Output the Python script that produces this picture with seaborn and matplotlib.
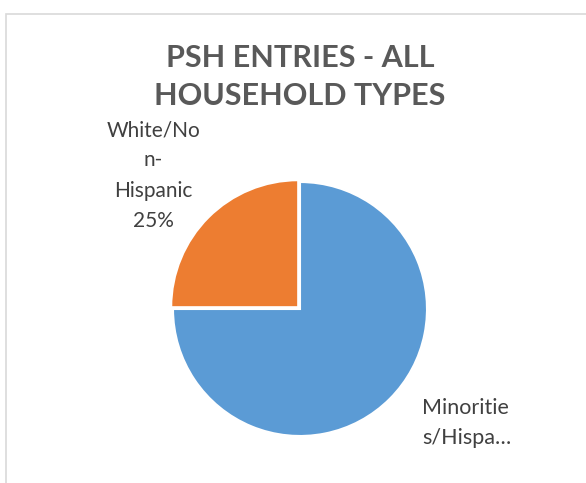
import matplotlib
matplotlib.use("Agg")
import matplotlib.pyplot as plt
import seaborn as sns
from matplotlib.patches import Rectangle

sns.set_theme(style="white")
plt.rcParams["font.family"] = ["Lato", "DejaVu Sans"]

# Data
categories = ["Minorities/Hispanic", "White/Non-Hispanic"]
shares = [75, 25]
slice_labels = ["Minoritie\ns/Hispa\u2026", "White/No\nn-\nHispanic\n25%"]
title_lines = ["PSH ENTRIES - ALL", "HOUSEHOLD TYPES"]

colors = ["#5b9bd5", "#ed7d31"]

fig = plt.figure(figsize=(5.86, 4.83), dpi=100)
ax = fig.add_axes([0, 0, 1, 1])

wedges, _ = ax.pie(
    shares,
    colors=colors,
    startangle=90,
    counterclock=False,
    explode=[0, 0.02],
    wedgeprops=dict(edgecolor="white", linewidth=1.5),
)

# axis limits chosen so the unit circle sits at a fixed place in the frame
ax.set_xlim(-300 / 127, 286 / 127)
ax.set_ylim(-(483 - 309) / 127, 309 / 127)
ax.set_aspect("auto")
ax.axis("off")

label_color = "#404040"
ax.text(-1.157, 1.05, slice_labels[1], ha="center", va="center",
        fontsize=15, color=label_color, linespacing=1.65)
ax.text(0.96, -0.90, slice_labels[0], ha="left", va="center",
        fontsize=15.5, color=label_color, linespacing=1.65)

# two-line title, each line on its own baseline
for line, baseline_px in zip(title_lines, [67, 105]):
    fig.text(300 / 586, 1 - baseline_px / 483, line, ha="center", va="baseline",
             fontsize=22, fontweight="bold", color="#595959")

# chart-area border (left and top edges visible)
fig.add_artist(Rectangle((5.5 / 586, -0.1), 1.2, 1.1 - 14 / 483,
                         transform=fig.transFigure, fill=False,
                         edgecolor="#d9d9d9", linewidth=1.2))

fig.savefig("out.png", dpi=100)
